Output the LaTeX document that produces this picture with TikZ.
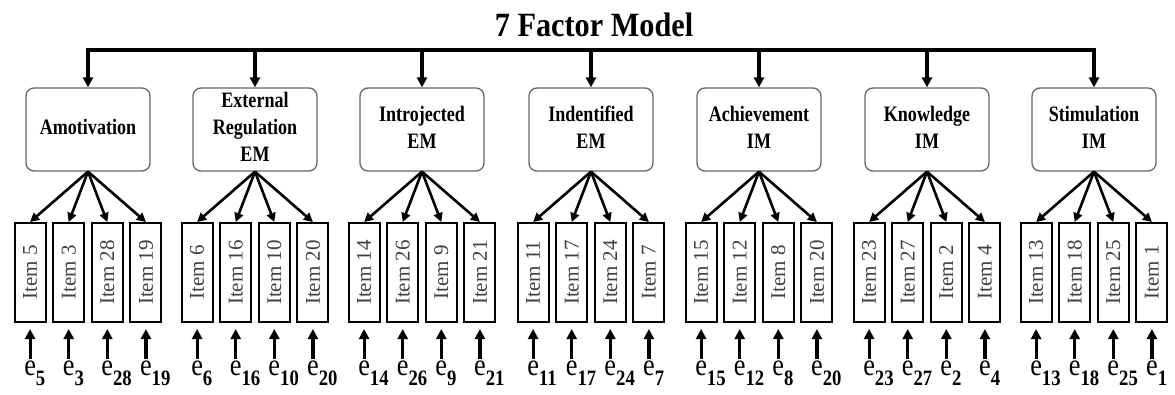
\documentclass[tikz,border=0pt]{standalone}
\usepackage{fontspec}
\setmainfont{Liberation Serif}
\usetikzlibrary{arrows.meta}
\newcommand{\hsq}[2]{\scalebox{#1}[1]{#2}}
\begin{document}
\begin{tikzpicture}[x=1pt,y=-1pt,
  factor/.style={draw=black!60, line width=1.3pt, rounded corners=8pt, minimum width=124pt, minimum height=83pt, inner sep=0pt, font=\fontsize{22}{27}\selectfont\bfseries, align=center},
  itembox/.style={draw, line width=2pt, minimum width=31pt, minimum height=99pt, inner sep=0pt, font=\fontsize{21}{21}\selectfont, text=black!75},
  errlab/.style={inner sep=0pt, anchor=base, font=\fontsize{31}{31}\selectfont},
  titlelab/.style={inner sep=0pt, anchor=base, font=\fontsize{34}{34}\selectfont\bfseries},
  bus/.style={line width=3.2pt, line cap=rect},
  busarr/.style={line width=3.2pt, -{Triangle[length=10pt,width=10pt]}},
  load/.style={line width=2.6pt, -{Triangle[length=9pt,width=9pt]}},
  errarr/.style={line width=3.2pt, shorten <=1.5pt, shorten >=6pt, -{Triangle[length=10pt,width=10pt]}}
]
\useasboundingbox (0,0) rectangle (1175,394);
\node[titlelab] (title) at (594,36) {\hsq{0.89}{7 Factor Model}};
\coordinate (top) at (0,50);
\foreach \i/\fx/\lab/\items in {1/88/{Amotivation}/{5,3,28,19}, 2/255/{External\\Regulation\\EM}/{6,16,10,20}, 3/422/{Introjected\\EM}/{14,26,9,21}, 4/591/{Indentified\\EM}/{11,17,24,7}, 5/759/{Achievement\\IM}/{15,12,8,20}, 6/927/{Knowledge\\IM}/{23,27,2,4}, 7/1094/{Stimulation\\IM}/{13,18,25,1}} {
  \node[factor] (f\i) at (\fx,129.5) {\hsq{0.82}{\begin{tabular}{@{}c@{}}\lab\end{tabular}}};
  \foreach \n [count=\j] in \items {
    \pgfmathsetmacro{\ix}{\fx + 38.6*(\j-2.5)}
    \node[itembox] (it\i-\j) at (\ix,272.5) {\rotatebox{90}{Item \n}};
    \node[errlab] (e\i-\j) at (\ix,375) {\hsq{0.85}{e\rlap{\raisebox{-10pt}{\fontsize{22}{22}\selectfont\bfseries\n}}}};
    \draw[load] (f\i.south) -- (it\i-\j.north);
    \draw[errarr] (e\i-\j.north) -- (it\i-\j.south);
  }
  \draw[busarr] (f\i.north |- top) -- (f\i.north);
}
\draw[bus] (f1.north |- top) -- (f7.north |- top);
\end{tikzpicture}
\end{document}
